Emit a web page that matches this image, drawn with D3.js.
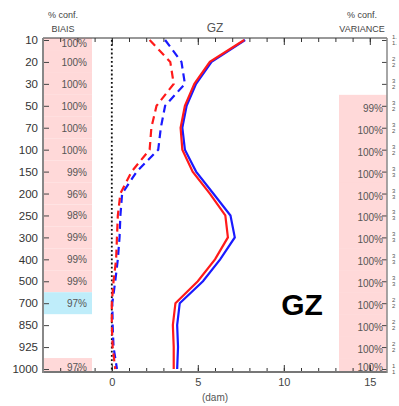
<!DOCTYPE html>
<html>
<head>
<meta charset="utf-8">
<script src="https://cdn.jsdelivr.net/npm/d3@7"></script>
<style>
  body { margin: 0; background: #fff; }
  svg { display: block; font-family: "Liberation Sans", Arial, sans-serif; }
</style>
</head>
<body>
<svg id="chart" width="399" height="406"></svg>
<script>
// pressure levels (hPa)
const levels = [10, 20, 30, 50, 70, 100, 150, 200, 250, 300, 400, 500, 700, 850, 925, 1000];

// solid lines (rms, dam)
const rmsRed  = [7.7, 5.7, 4.8, 4.25, 4.0, 4.1, 4.7, 5.7, 6.6, 6.75, 6.0, 5.0, 3.7, 3.55, 3.6, 3.6];
const rmsBlue = [7.75, 5.8, 4.9, 4.35, 4.1, 4.25, 4.9, 5.9, 6.9, 7.15, 6.3, 5.3, 3.95, 3.8, 3.85, 3.8];
// dashed lines (bias, dam)
const biasRed  = [2.2, 3.4, 3.6, 2.6, 2.3, 2.2, 1.15, 0.5, 0.35, 0.3, 0.25, 0.1, 0.0, 0.0, 0.05, 0.2];
const biasBlue = [3.1, 4.05, 4.25, 3.1, 2.85, 2.7, 1.45, 0.6, 0.5, 0.45, 0.35, 0.2, 0.03, 0.05, 0.1, 0.3];

// confidence labels (null = none)
const biasConf = ['100%', '100%', '100%', '100%', '100%', '100%', '99%', '96%', '98%', '99%', '99%', '99%', '97%', null, null, '97%'];
const biasColor = ['p', 'p', 'p', 'p', 'p', 'p', 'p', 'p', 'p', 'p', 'p', 'p', 'c', null, null, 'p'];
const varConf = [null, null, null, '99%', '100%', '100%', '100%', '100%', '100%', '100%', '100%', '100%', '100%', '100%', '100%', '100%'];

// cut-off notes at right edge
const rightNotes = [['1.', '1.'], ['2', '2'], ['3', '2'], ['3', '2'], ['3', '2'], ['3', '2'], ['3', '3'], ['3', '3'], ['3', '3'], ['3', '3'], ['3', '3'], ['3', '3'], ['2', '2'], ['2', '2'], ['2', '2'], ['1', '1']];

const xMajor = [0, 5, 10, 15];
const xTicks = d3.range(-3, 16);

const svg = d3.select('#chart');
const frame = {left: 43, right: 387, top: 38, bottom: 372};

const x = d3.scaleLinear().domain([-4, 16]).range([frame.left, frame.right]);
const y = d3.scalePoint().domain(levels).range([40, 369]);
const step = y.step();

const fills = {p: '#ffd9d9', c: '#bfedfa'};

// left band cells
svg.append('g')
  .selectAll('rect')
  .data(levels.map((l, i) => ({l, c: biasColor[i]})).filter(d => d.c))
  .join('rect')
  .attr('x', frame.left)
  .attr('width', 49)
  .attr('y', d => Math.max(frame.top, y(d.l) - step / 2))
  .attr('height', d => Math.min(frame.bottom, y(d.l) + step / 2) - Math.max(frame.top, y(d.l) - step / 2))
  .attr('fill', d => fills[d.c]);

// right band cells
svg.append('g')
  .selectAll('rect')
  .data(levels.filter((l, i) => varConf[i]))
  .join('rect')
  .attr('x', 339)
  .attr('width', frame.right - 339)
  .attr('y', d => y(d) - step / 2)
  .attr('height', d => Math.min(frame.bottom, y(d) + step / 2) - (y(d) - step / 2) + 0.5)
  .attr('fill', fills.p);

// conf labels
svg.append('g')
  .attr('font-size', 10)
  .attr('fill', '#555')
  .attr('text-anchor', 'end')
  .selectAll('text')
  .data(levels.map((l, i) => ({l, t: biasConf[i]})).filter(d => d.t))
  .join('text')
  .attr('x', 87)
  .attr('y', d => Math.min(371, Math.max(47, y(d.l) + 4)))
  .text(d => d.t);

svg.append('g')
  .attr('font-size', 10)
  .attr('fill', '#555')
  .attr('text-anchor', 'end')
  .selectAll('text')
  .data(levels.map((l, i) => ({l, t: varConf[i]})).filter(d => d.t))
  .join('text')
  .attr('x', 383)
  .attr('y', d => Math.min(371, y(d.l) + 6))
  .text(d => d.t);

// axes
const bottomMinor = svg.append('g')
  .attr('transform', `translate(0,${frame.bottom})`)
  .call(d3.axisBottom(x).tickValues(xTicks).tickSizeInner(-4).tickSizeOuter(0).tickFormat(''));
bottomMinor.select('.domain').remove();
bottomMinor.selectAll('.tick line').attr('stroke', '#333');

const bottomMajor = svg.append('g')
  .attr('transform', `translate(0,${frame.bottom})`)
  .call(d3.axisBottom(x).tickValues(xMajor).tickSizeInner(-7).tickSizeOuter(0).tickPadding(6).tickFormat(d3.format('d')));
bottomMajor.select('.domain').remove();
bottomMajor.selectAll('.tick line').attr('stroke', '#333');
bottomMajor.selectAll('text').attr('font-size', 11).attr('fill', '#444')
  .attr('font-family', '"Liberation Sans", Arial, sans-serif');

const topMinor = svg.append('g')
  .attr('transform', `translate(0,${frame.top})`)
  .call(d3.axisTop(x).tickValues(xTicks).tickSizeInner(-4).tickSizeOuter(0).tickFormat(''));
topMinor.select('.domain').remove();
topMinor.selectAll('.tick line').attr('stroke', '#333');
const topMajor = svg.append('g')
  .attr('transform', `translate(0,${frame.top})`)
  .call(d3.axisTop(x).tickValues(xMajor).tickSizeInner(-7).tickSizeOuter(0).tickFormat(''));
topMajor.select('.domain').remove();
topMajor.selectAll('.tick line').attr('stroke', '#333');

const leftAxis = svg.append('g')
  .attr('transform', `translate(${frame.left},0)`)
  .call(d3.axisLeft(y).tickSizeInner(-6).tickSizeOuter(0).tickPadding(5));
leftAxis.select('.domain').remove();
leftAxis.selectAll('.tick line').attr('stroke', '#444');
leftAxis.selectAll('text').attr('font-size', 11.5).attr('fill', '#333')
  .attr('font-family', '"Liberation Sans", Arial, sans-serif');

const rightAxis = svg.append('g')
  .attr('transform', `translate(${frame.right},0)`)
  .call(d3.axisRight(y).tickSizeInner(-5).tickSizeOuter(0).tickFormat(''));
rightAxis.select('.domain').remove();
rightAxis.selectAll('.tick line').attr('stroke', '#444');

// frame lines
svg.append('line').attr('x1', frame.left).attr('x2', frame.right).attr('y1', frame.top).attr('y2', frame.top)
  .attr('stroke', '#333').attr('stroke-width', 1);
svg.append('line').attr('x1', frame.left).attr('x2', frame.right).attr('y1', frame.bottom).attr('y2', frame.bottom)
  .attr('stroke', '#777').attr('stroke-width', 2);
svg.append('line').attr('x1', frame.left).attr('x2', frame.left).attr('y1', frame.top).attr('y2', frame.bottom + 1)
  .attr('stroke', '#888').attr('stroke-width', 2);
svg.append('line').attr('x1', frame.right).attr('x2', frame.right).attr('y1', frame.top).attr('y2', frame.bottom + 1)
  .attr('stroke', '#888').attr('stroke-width', 1.5);

// zero dotted line
svg.append('line')
  .attr('x1', x(0)).attr('x2', x(0))
  .attr('y1', frame.top + 2).attr('y2', frame.bottom)
  .attr('stroke', '#111').attr('stroke-width', 1.8)
  .attr('stroke-dasharray', '1.8,2.4');

// series
const line = d3.line()
  .x(d => x(d.v))
  .y(d => y(d.l));
const toPts = arr => arr.map((v, i) => ({v, l: levels[i]}));

const series = [
  {data: biasBlue, color: '#1a1aff', dash: '8,5'},
  {data: biasRed, color: '#ff1a1a', dash: '8,5'},
  {data: rmsBlue, color: '#1a1aff', dash: null},
  {data: rmsRed, color: '#ff1a1a', dash: null}
];

svg.append('g')
  .selectAll('path')
  .data(series)
  .join('path')
  .attr('fill', 'none')
  .attr('stroke', d => d.color)
  .attr('stroke-width', 2.2)
  .attr('stroke-dasharray', d => d.dash)
  .attr('d', d => line(toPts(d.data)));

// titles
svg.append('text').attr('x', 63).attr('y', 18).attr('text-anchor', 'middle')
  .attr('font-size', 9).attr('fill', '#444').text('% conf.');
svg.append('text').attr('x', 63).attr('y', 32).attr('text-anchor', 'middle')
  .attr('font-size', 9).attr('fill', '#444').text('BIAIS');
svg.append('text').attr('x', 362).attr('y', 18).attr('text-anchor', 'middle')
  .attr('font-size', 9).attr('fill', '#444').text('% conf.');
svg.append('text').attr('x', 362).attr('y', 32).attr('text-anchor', 'middle')
  .attr('font-size', 9).attr('fill', '#444').text('VARIANCE');
svg.append('text').attr('x', 215).attr('y', 32).attr('text-anchor', 'middle')
  .attr('font-size', 12).attr('fill', '#555').text('GZ');
svg.append('text').attr('x', 215).attr('y', 401).attr('text-anchor', 'middle')
  .attr('font-size', 10).attr('fill', '#555').text('(dam)');
svg.append('text').attr('x', 302).attr('y', 315).attr('text-anchor', 'middle')
  .attr('font-size', 30).attr('font-weight', 'bold').attr('fill', '#000').text('GZ');

// cut-off notes
const notes = svg.append('g').attr('font-size', 6).attr('fill', '#555');
notes.selectAll('g')
  .data(levels.map((l, i) => ({l, n: rightNotes[i]})))
  .join('g')
  .each(function (d) {
    const g = d3.select(this);
    g.append('text').attr('x', 392).attr('y', y(d.l) - 1).text(d.n[0]);
    g.append('text').attr('x', 392).attr('y', y(d.l) + 5).text(d.n[1]);
  });
</script>
</body>
</html>
